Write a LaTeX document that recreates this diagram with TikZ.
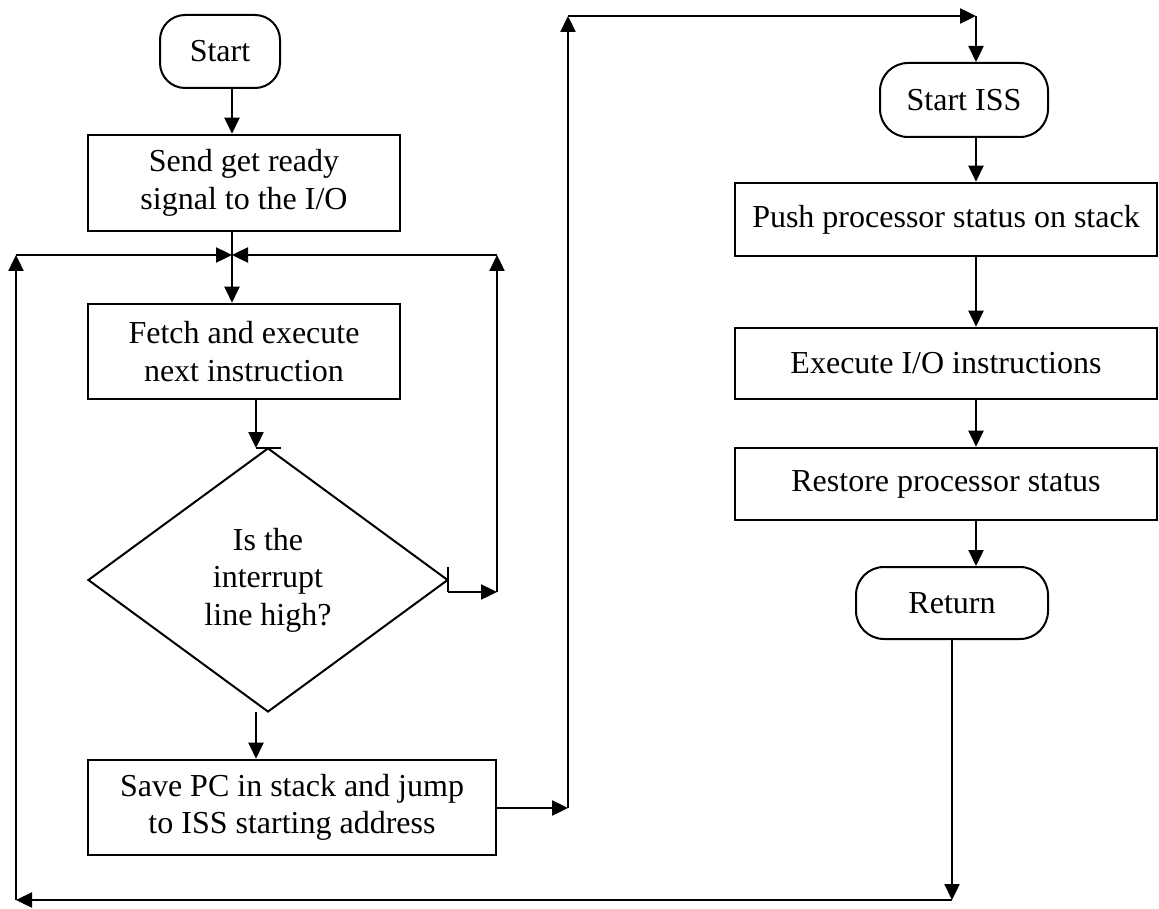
\documentclass[tikz,border=0pt]{standalone}
\usepackage{fontspec}
\setmainfont{Liberation Serif}
\usetikzlibrary{arrows.meta,shapes.geometric,calc}
\begin{document}
\begin{tikzpicture}[x=1pt,y=-1pt,
  every node/.style={font=\fontsize{32}{37.5}\selectfont, align=center, inner sep=0pt},
  procbox/.style={draw, line width=2.6pt, rectangle},
  termbox/.style={draw, line width=2pt, rectangle, rounded corners=28pt},
  decbox/.style={draw, line width=2pt, diamond, aspect=1.36},
  conn/.style={line width=2.4pt},
  arr/.style={conn, -{Triangle[length=16pt,width=15pt]}}
]
\useasboundingbox (0,0) rectangle (1159,909);

% left column
\node[termbox, minimum width=120pt, minimum height=73pt, rounded corners=25pt] (start) at (220,51.5) {Start};
\node[procbox, minimum width=312pt, minimum height=96pt] (send) at (244,183) {Send get ready\\signal to the I/O};
\node[procbox, minimum width=312pt, minimum height=95pt] (fetch) at (244,351.5) {Fetch and execute\\next instruction};
\node[decbox, minimum width=360pt, minimum height=264pt] (dec) at (268,580) {Is the\\interrupt\\line high?};
\node[procbox, minimum width=408pt, minimum height=95pt] (save) at (292,807.5) {Save PC in stack and jump\\to ISS starting address};

% right column
\node[termbox, minimum width=168pt, minimum height=74pt] (iss) at (964,100) {Start ISS};
\node[procbox, minimum width=422pt, minimum height=73pt] (push) at (946,219.5) {Push processor status on stack};
\node[procbox, minimum width=422pt, minimum height=71pt] (exec) at (946,363.5) {Execute I/O instructions};
\node[procbox, minimum width=422pt, minimum height=72pt] (rest) at (946,484) {Restore processor status};
\node[termbox, minimum width=192pt, minimum height=72pt] (ret) at (952,603) {Return};

% helper coordinates
\coordinate (cl) at (232,0);
\coordinate (cf) at (256,0);
\coordinate (cr) at (976,0);
\coordinate (j) at (232,255);
\coordinate (lc) at (16,255);
\coordinate (rc) at (497,255);
\coordinate (dt) at (256,448);
\coordinate (dtk) at (281,448);
\coordinate (drt) at (448,567);
\coordinate (drb) at (448,592);
\coordinate (rb) at (497,592);
\coordinate (db) at (256,712);
\coordinate (sv) at (0,808);
\coordinate (ub) at (568,808);
\coordinate (ut) at (568,16);
\coordinate (rt) at (976,16);
\coordinate (bb) at (952,900);
\coordinate (lb) at (16,900);

% connectors left
\draw[arr] (start.south -| cl) -- (send.north -| cl);
\draw[arr] (send.south -| cl) -- (fetch.north -| cl);
\draw[arr] (lc) -- (j);
\draw[arr] (rc) -- (j);
\draw[arr] (fetch.south -| cf) -- (dt);
\draw[conn] (dt) -- (dtk);
\draw[conn] (drt) -- (drb);
\draw[arr] (drb) -- (rb);
\draw[arr] (rb) -- (rc);
\draw[arr] (db) -- (save.north -| cf);
\draw[arr] (save.east |- sv) -- (ub);
\draw[arr] (ub) -- (ut);
\draw[arr] (ut) -- (rt);
\draw[arr] (rt) -- (iss.north -| cr);

% connectors right
\draw[arr] (iss.south -| cr) -- (push.north -| cr);
\draw[arr] (push.south -| cr) -- (exec.north -| cr);
\draw[arr] (exec.south -| cr) -- (rest.north -| cr);
\draw[arr] (rest.south -| cr) -- (ret.north -| cr);
\draw[arr] (ret.south) -- (bb);
\draw[arr] (bb) -- (lb);
\draw[arr] (lb) -- (lc);
\end{tikzpicture}
\end{document}
